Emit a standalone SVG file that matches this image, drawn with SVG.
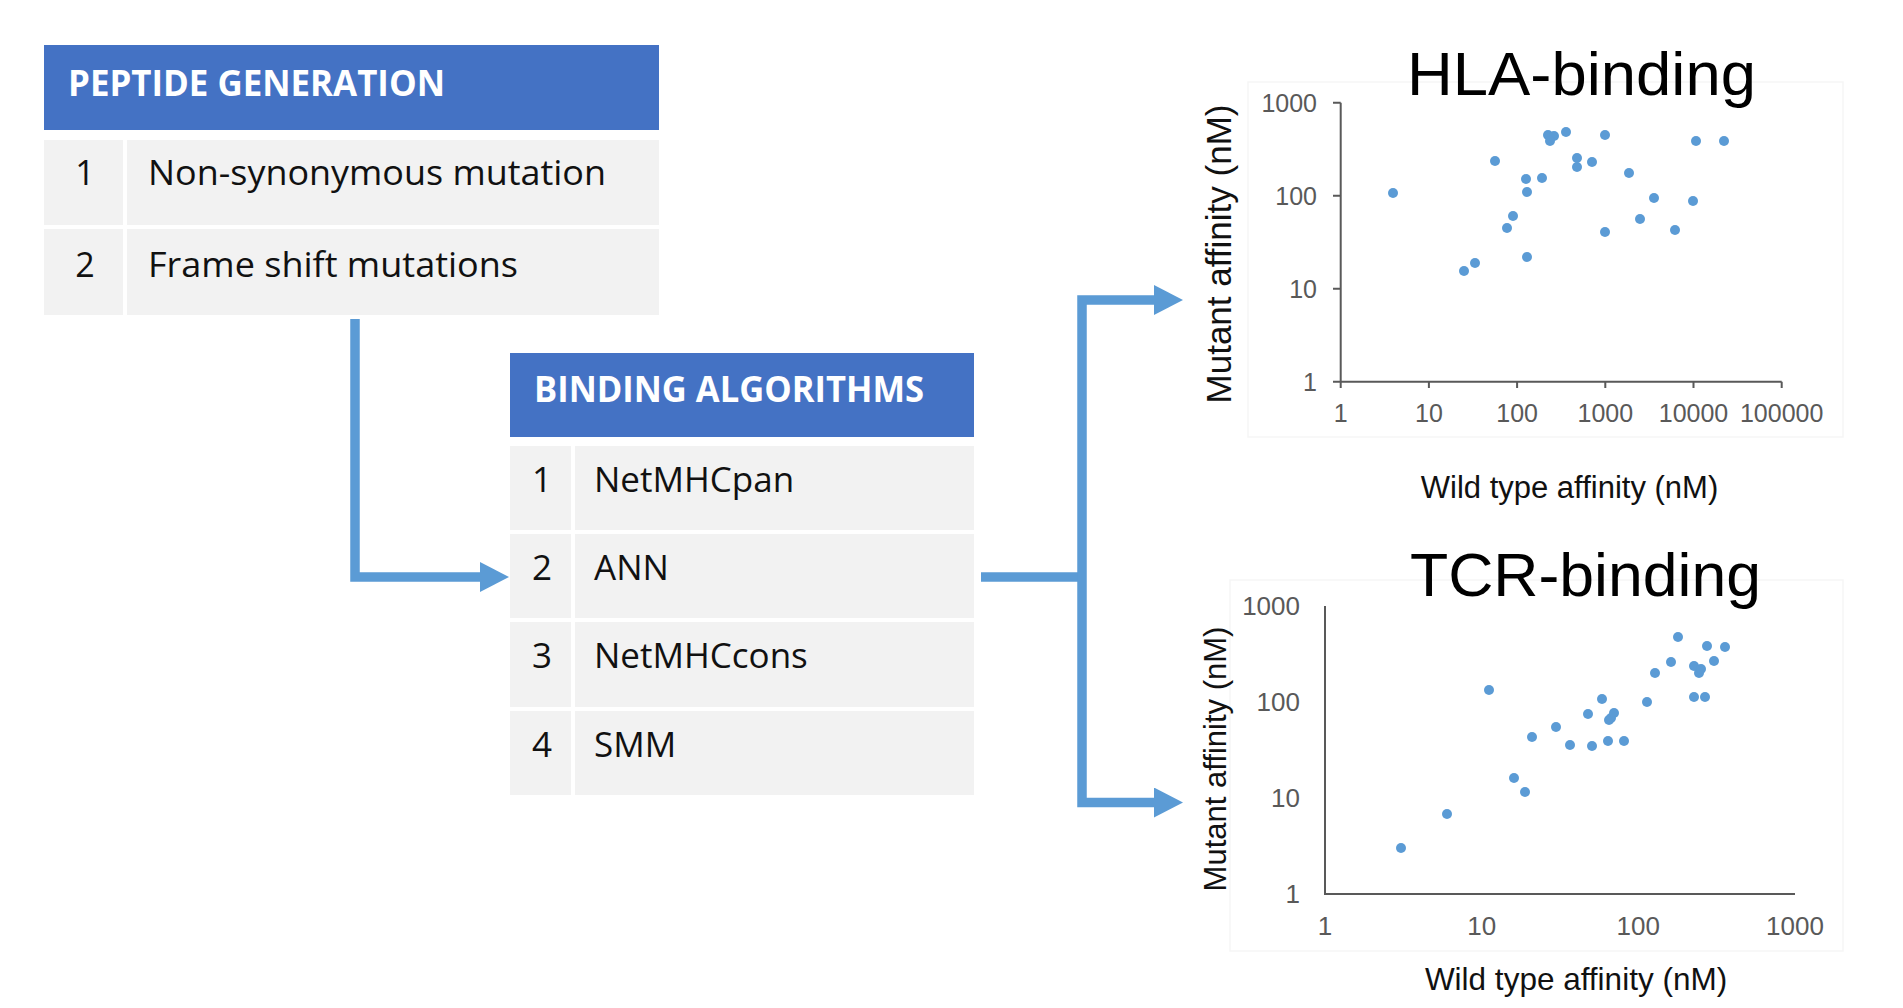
<svg xmlns="http://www.w3.org/2000/svg" width="1903" height="1008" viewBox="0 0 1903 1008">
<defs>
<style>
.hdr{fill:#4472C4}
.cell{fill:#F2F2F2}
.th{font-family:"Open Sans","Liberation Sans",sans-serif;font-weight:bold;fill:#FFFFFF}
.td{font-family:"Open Sans","Liberation Sans",sans-serif;fill:#111111}
.conn{fill:none;stroke:#5B9BD5;stroke-width:9.5;stroke-linejoin:miter}
.axis{fill:none;stroke:#595959;stroke-width:2}
.frame{fill:none;stroke:#F6F6F6;stroke-width:1.5}
.tk{font-family:"Liberation Sans",Arial,sans-serif;fill:#595959}
.at{font-family:"Liberation Sans",Arial,sans-serif;fill:#111111}
.ct{font-family:"Liberation Sans",Arial,sans-serif;font-size:62px;fill:#000000}
.dot{fill:#5B9BD5}
</style>
<marker id="ah" markerUnits="userSpaceOnUse" viewBox="0 0 29 30" markerWidth="29" markerHeight="30" refX="1" refY="15" orient="auto">
<path d="M0,0 L29,15 L0,30 Z" fill="#5B9BD5"/>
</marker>
</defs>
<rect width="1903" height="1008" fill="#FFFFFF"/>

<g id="peptide-generation">
<rect class="hdr" x="44" y="45" width="615" height="85"/>
<text class="th" x="68" y="96" font-size="36" textLength="377" lengthAdjust="spacingAndGlyphs">PEPTIDE GENERATION</text>
<rect class="cell" x="44" y="140" width="79" height="85"/>
<rect class="cell" x="127" y="140" width="532" height="85"/>
<rect class="cell" x="44" y="229" width="79" height="86"/>
<rect class="cell" x="127" y="229" width="532" height="86"/>
<text class="td" x="85" y="185" font-size="34" text-anchor="middle">1</text>
<text class="td" x="148" y="185" font-size="34" textLength="458" lengthAdjust="spacingAndGlyphs">Non-synonymous mutation</text>
<text class="td" x="85" y="277" font-size="34" text-anchor="middle">2</text>
<text class="td" x="148" y="277" font-size="34" textLength="370" lengthAdjust="spacingAndGlyphs">Frame shift mutations</text>
</g>

<g id="binding-algorithms">
<rect class="hdr" x="510" y="353" width="464" height="84"/>
<text class="th" x="534" y="402" font-size="35" textLength="390" lengthAdjust="spacingAndGlyphs">BINDING ALGORITHMS</text>
<rect class="cell" x="510" y="446" width="61" height="84"/>
<rect class="cell" x="575" y="446" width="399" height="84"/>
<rect class="cell" x="510" y="534" width="61" height="84"/>
<rect class="cell" x="575" y="534" width="399" height="84"/>
<rect class="cell" x="510" y="622" width="61" height="85"/>
<rect class="cell" x="575" y="622" width="399" height="85"/>
<rect class="cell" x="510" y="711" width="61" height="84"/>
<rect class="cell" x="575" y="711" width="399" height="84"/>
<text class="td" x="542" y="492" font-size="35" text-anchor="middle">1</text>
<text class="td" x="594" y="492" font-size="35">NetMHCpan</text>
<text class="td" x="542" y="580" font-size="35" text-anchor="middle">2</text>
<text class="td" x="594" y="580" font-size="35">ANN</text>
<text class="td" x="542" y="668" font-size="35" text-anchor="middle">3</text>
<text class="td" x="594" y="668" font-size="35">NetMHCcons</text>
<text class="td" x="542" y="757" font-size="35" text-anchor="middle">4</text>
<text class="td" x="594" y="757" font-size="35">SMM</text>
</g>

<g id="connectors">
<path class="conn" d="M355,319 V577 H481" marker-end="url(#ah)"/>
<path class="conn" d="M981,577 H1082"/>
<path class="conn" d="M1082,577 V300 H1155" marker-end="url(#ah)"/>
<path class="conn" d="M1082,577 V802.5 H1155" marker-end="url(#ah)"/>
</g>

<g id="hla-binding-chart">
<rect class="frame" x="1248" y="82" width="595" height="355"/>
<text class="ct" x="1407" y="95" textLength="349" lengthAdjust="spacingAndGlyphs">HLA-binding</text>
<path class="axis" d="M1340.7,102.7 V381.7 M1333,381.7 H1781.7 M1333,102.7 H1340.7 M1333,195.7 H1340.7 M1333,288.7 H1340.7 M1340.7,381.7 V388 M1428.9,381.7 V388 M1517.1,381.7 V388 M1605.3,381.7 V388 M1693.5,381.7 V388 M1781.7,381.7 V388"/>
<g class="tk" font-size="25" text-anchor="end">
<text x="1317" y="111.7">1000</text>
<text x="1317" y="204.7">100</text>
<text x="1317" y="297.7">10</text>
<text x="1317" y="390.7">1</text>
</g>
<g class="tk" font-size="25" text-anchor="middle">
<text x="1340.7" y="421.7">1</text>
<text x="1428.9" y="421.7">10</text>
<text x="1517.1" y="421.7">100</text>
<text x="1605.3" y="421.7">1000</text>
<text x="1693.5" y="421.7">10000</text>
<text x="1781.7" y="421.7">100000</text>
</g>
<text class="at" font-size="35" text-anchor="middle" transform="translate(1231,254) rotate(-90)">Mutant affinity (nM)</text>
<text class="at" font-size="31" text-anchor="middle" x="1569.5" y="498">Wild type affinity (nM)</text>
<g class="dot">
<circle cx="1393" cy="193" r="5"/><circle cx="1464" cy="271" r="5"/><circle cx="1475" cy="263" r="5"/>
<circle cx="1495" cy="161" r="5"/><circle cx="1507" cy="228" r="5"/><circle cx="1513" cy="216" r="5"/>
<circle cx="1526" cy="179" r="5"/><circle cx="1527" cy="192" r="5"/><circle cx="1527" cy="257" r="5"/>
<circle cx="1542" cy="178" r="5"/><circle cx="1548" cy="135" r="5"/><circle cx="1554" cy="136" r="5"/>
<circle cx="1550" cy="141" r="5"/><circle cx="1566" cy="132" r="5"/><circle cx="1577" cy="158" r="5"/>
<circle cx="1577" cy="167" r="5"/><circle cx="1592" cy="162" r="5"/><circle cx="1605" cy="135" r="5"/>
<circle cx="1605" cy="232" r="5"/><circle cx="1629" cy="173" r="5"/><circle cx="1640" cy="219" r="5"/>
<circle cx="1654" cy="198" r="5"/><circle cx="1675" cy="230" r="5"/><circle cx="1693" cy="201" r="5"/>
<circle cx="1696" cy="141" r="5"/><circle cx="1724" cy="141" r="5"/>
</g>
</g>

<g id="tcr-binding-chart">
<rect class="frame" x="1230" y="580" width="613" height="371"/>
<text class="ct" x="1410" y="596" textLength="351" lengthAdjust="spacingAndGlyphs">TCR-binding</text>
<path class="axis" d="M1325,606 V894 H1795"/>
<g class="tk" font-size="26" text-anchor="end">
<text x="1300" y="615">1000</text>
<text x="1300" y="711">100</text>
<text x="1300" y="807">10</text>
<text x="1300" y="903">1</text>
</g>
<g class="tk" font-size="26" text-anchor="middle">
<text x="1325" y="935">1</text>
<text x="1481.7" y="935">10</text>
<text x="1638.3" y="935">100</text>
<text x="1795" y="935">1000</text>
</g>
<text class="at" font-size="31" text-anchor="middle" transform="translate(1226,759) rotate(-90)">Mutant affinity (nM)</text>
<text class="at" font-size="31.5" text-anchor="middle" x="1576" y="990">Wild type affinity (nM)</text>
<g class="dot">
<circle cx="1401" cy="848" r="5"/><circle cx="1447" cy="814" r="5"/><circle cx="1489" cy="690" r="5"/>
<circle cx="1514" cy="778" r="5"/><circle cx="1525" cy="792" r="5"/><circle cx="1532" cy="737" r="5"/>
<circle cx="1556" cy="727" r="5"/><circle cx="1570" cy="745" r="5"/><circle cx="1588" cy="714" r="5"/>
<circle cx="1592" cy="746" r="5"/><circle cx="1602" cy="699" r="5"/><circle cx="1608" cy="741" r="5"/>
<circle cx="1609" cy="720" r="5"/><circle cx="1611" cy="718" r="5"/><circle cx="1614" cy="713" r="5"/>
<circle cx="1624" cy="741" r="5"/><circle cx="1647" cy="702" r="5"/><circle cx="1655" cy="673" r="5"/>
<circle cx="1671" cy="662" r="5"/><circle cx="1678" cy="637" r="5"/><circle cx="1694" cy="666" r="5"/>
<circle cx="1694" cy="697" r="5"/><circle cx="1699" cy="673" r="5"/><circle cx="1701" cy="669" r="5"/>
<circle cx="1705" cy="697" r="5"/><circle cx="1707" cy="646" r="5"/><circle cx="1714" cy="661" r="5"/>
<circle cx="1725" cy="647" r="5"/>
</g>
</g>
</svg>
